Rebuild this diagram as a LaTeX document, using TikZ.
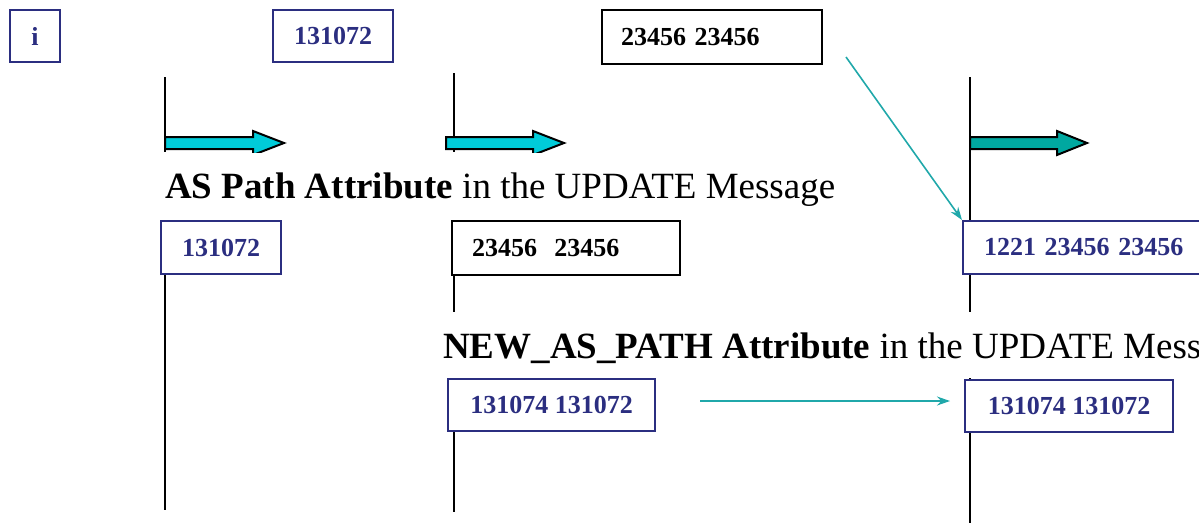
\documentclass[tikz,border=0pt]{standalone}
\usepackage{fontspec}
\setmainfont{Liberation Serif}
\usetikzlibrary{arrows.meta}
\definecolor{navy}{RGB}{43,46,128}
\definecolor{cyanA}{RGB}{0,204,217}
\definecolor{tealB}{RGB}{0,168,160}
\definecolor{tealL}{RGB}{32,168,170}
\begin{document}
\begin{tikzpicture}[x=1pt,y=-1pt,
  boxtext/.style={font=\fontsize{26}{28}\selectfont\bfseries},
  nbox/.style={boxtext, draw=navy, line width=2pt, text=navy, inner sep=0pt, anchor=north west},
  kbox/.style={boxtext, draw=black, line width=2pt, text=black, inner ysep=0pt, anchor=north west, align=left},
  title/.style={font=\fontsize{37}{40}\selectfont, inner sep=0pt, anchor=base west},
  life/.style={draw=black, line width=2pt},
  blockarrow/.style={draw=black, line width=2pt, line join=miter},
  link/.style={draw=tealL, line width=1.6pt, -{Stealth[length=13pt,width=9pt]}}]
\useasboundingbox (0,0) rectangle (1199,523);
% lifelines
\draw[life] (165,77) -- (165,152);
\draw[life] (165,273) -- (165,510);
\draw[life] (454,73) -- (454,152);
\draw[life] (454,274) -- (454,312);
\draw[life] (454,430) -- (454,512);
\draw[life] (970,77) -- (970,312);
\draw[life] (970,378) -- (970,523);
% block arrows
\begin{scope}
\clip (0,0) rectangle (900,152);
\draw[blockarrow, fill=cyanA] (165,137) -- (253,137) -- (253,131) -- (284,143) -- (253,155) -- (253,149) -- (165,149) -- cycle;
\draw[blockarrow, fill=cyanA] (446,137) -- (533,137) -- (533,131) -- (564,143) -- (533,155) -- (533,149) -- (446,149) -- cycle;
\end{scope}
\draw[blockarrow, fill=tealB] (970,137) -- (1057,137) -- (1057,131) -- (1087,143) -- (1057,155) -- (1057,149) -- (970,149) -- cycle;
% top row
\node[nbox, minimum width=50pt, minimum height=52pt] (i) at (9,9) {i};
\node[nbox, minimum width=120pt, minimum height=52pt] (t131) at (272,9) {131072};
\node[kbox, text width=182pt, inner xsep=19pt, minimum height=54pt] (t2345) at (601,9) {23456 23456};
% titles
\node[title] (ast) at (165,198) {\textbf{AS Path Attribute} in the UPDATE Message};
\node[title] (newt) at (443,358) {\textbf{NEW\_AS\_PATH Attribute} in the UPDATE Message};
% second row
\node[nbox, fill=white, minimum width=120pt, minimum height=53pt] (a131) at (160,220) {131072};
\node[kbox, fill=white, text width=188pt, inner xsep=20pt, minimum height=54pt] (a2345) at (451,220) {23456\ \ 23456};
\node[nbox, fill=white, text width=220pt, inner xsep=21pt, align=left, minimum height=53pt] (a1221) at (962,220) {1221 23456 23456};
% third row
\node[nbox, fill=white, minimum width=207pt, minimum height=52pt] (n1) at (447,378) {131074 131072};
\node[nbox, fill=white, minimum width=208pt, minimum height=52pt] (n2) at (964,379) {131074 131072};
% connectors
\coordinate (s1) at (846,57);
\draw[link] (s1) -- (a1221.north west);
\coordinate (h1) at ([yshift=4pt]n1.east);
\draw[link, line width=1.3pt, shorten <=44pt, shorten >=14pt] (h1) -- (h1 -| n2.west);
\end{tikzpicture}
\end{document}
